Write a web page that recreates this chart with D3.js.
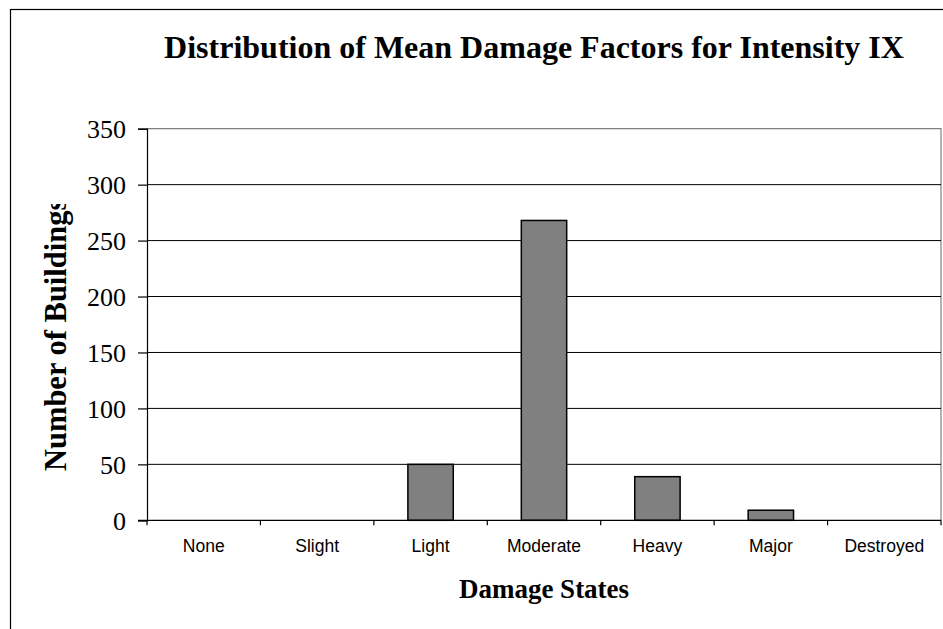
<!DOCTYPE html>
<html>
<head>
<meta charset="utf-8">
<script src="https://cdn.jsdelivr.net/npm/d3@7/dist/d3.min.js"></script>
<style>
  html, body { margin: 0; padding: 0; background: #fff; }
  svg { display: block; }
</style>
</head>
<body>
<script>
// Damage state categories and building counts
const categories = ["None", "Slight", "Light", "Moderate", "Heavy", "Major", "Destroyed"];
const buildings = [0, 0, 50, 268, 39, 9, 0];
const yTicks = [0, 50, 100, 150, 200, 250, 300, 350];

const W = 943, H = 629;
const plot = { left: 147, right: 941, top: 128.7, bottom: 520.3 };

const svg = d3.select("body").append("svg")
  .attr("width", W).attr("height", H);

// outer chart frame
svg.append("rect")
  .attr("x", 10.5).attr("y", 9.5)
  .attr("width", W + 20).attr("height", H + 20)
  .attr("fill", "#fff").attr("stroke", "#000").attr("stroke-width", 1.2);

const xTickScale = d3.scaleBand()
  .domain(categories)
  .range([plot.left, plot.right]);

const y = d3.scaleLinear()
  .domain([0, 350])
  .range([plot.bottom, plot.top]);

// plot area border (top and right)
svg.append("path")
  .attr("d", `M${plot.left},${plot.top}H${plot.right}V${plot.bottom}`)
  .attr("fill", "none").attr("stroke", "#808080").attr("stroke-width", 1.2);

// horizontal gridlines
svg.append("g")
  .selectAll("line")
  .data(yTicks.filter(d => d > 0 && d < 350))
  .join("line")
  .attr("x1", plot.left).attr("x2", plot.right)
  .attr("y1", d => y(d)).attr("y2", d => y(d))
  .attr("stroke", "#000").attr("stroke-width", 1);

// bars
svg.append("g")
  .selectAll("rect")
  .data(categories.map((c, i) => ({ c, v: buildings[i] })).filter(d => d.v > 0))
  .join("rect")
  .attr("x", d => xTickScale(d.c) + xTickScale.bandwidth() * 0.3)
  .attr("width", xTickScale.bandwidth() * 0.4)
  .attr("y", d => y(d.v))
  .attr("height", d => y(0) - y(d.v))
  .attr("fill", "#808080")
  .attr("stroke", "#000")
  .attr("stroke-width", 1.5);

// y axis
const yAxis = svg.append("g")
  .attr("transform", `translate(${plot.left},0)`)
  .call(d3.axisLeft(y).tickValues(yTicks).tickSize(9).tickPadding(12));
yAxis.select(".domain").attr("stroke", "#000").attr("stroke-width", 1.2);
yAxis.selectAll(".tick line").attr("stroke", "#000").attr("stroke-width", 1.2);
yAxis.selectAll(".tick text")
  .attr("font-family", "'Liberation Serif', 'Times New Roman', serif")
  .attr("font-size", 26)
  .attr("fill", "#000")
  .attr("dy", "0.35em");

// x axis with ticks on category boundaries
const xAxisG = svg.append("g")
  .attr("transform", `translate(0,${plot.bottom})`);
xAxisG.append("line")
  .attr("x1", plot.left - 9).attr("x2", plot.right)
  .attr("y1", 0).attr("y2", 0)
  .attr("stroke", "#000").attr("stroke-width", 1.2);
const boundaries = categories.map(c => xTickScale(c)).concat([plot.right]);
xAxisG.selectAll("line.tk")
  .data(boundaries)
  .join("line")
  .attr("class", "tk")
  .attr("x1", d => d).attr("x2", d => d)
  .attr("y1", 0).attr("y2", 5)
  .attr("stroke", "#000").attr("stroke-width", 1.2);
xAxisG.selectAll("text")
  .data(categories)
  .join("text")
  .attr("x", d => xTickScale(d) + xTickScale.bandwidth() / 2)
  .attr("y", 32)
  .attr("text-anchor", "middle")
  .attr("font-family", "'Liberation Sans', Arial, sans-serif")
  .attr("font-size", 17.5)
  .attr("fill", "#000")
  .text(d => d);

// chart title
svg.append("text")
  .attr("x", 534).attr("y", 58)
  .attr("text-anchor", "middle")
  .attr("font-family", "'Liberation Serif', 'Times New Roman', serif")
  .attr("font-weight", "bold")
  .attr("font-size", 32)
  .attr("fill", "#000")
  .text("Distribution of Mean Damage Factors for Intensity IX");

// x axis title
svg.append("text")
  .attr("x", (plot.left + plot.right) / 2).attr("y", 598)
  .attr("text-anchor", "middle")
  .attr("font-family", "'Liberation Serif', 'Times New Roman', serif")
  .attr("font-weight", "bold")
  .attr("font-size", 27)
  .attr("fill", "#000")
  .text("Damage States");

// y axis title, clipped at the top
svg.append("clipPath").attr("id", "ytitle-clip")
  .append("rect").attr("x", 20).attr("y", 204).attr("width", 80).attr("height", 300);
svg.append("g").attr("clip-path", "url(#ytitle-clip)")
  .append("text")
  .attr("transform", `translate(66,471) rotate(-90)`)
  .attr("text-anchor", "start")
  .attr("font-family", "'Liberation Serif', 'Times New Roman', serif")
  .attr("font-weight", "bold")
  .attr("font-size", 30.5)
  .attr("fill", "#000")
  .text("Number of Buildings");
</script>
</body>
</html>
